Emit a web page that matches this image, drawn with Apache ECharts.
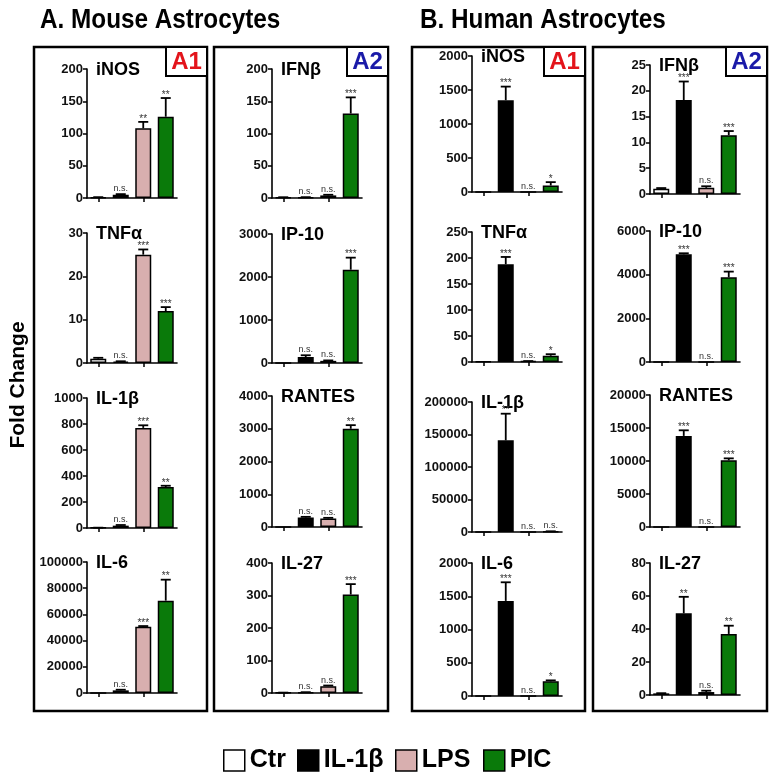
<!DOCTYPE html>
<html><head><meta charset="utf-8">
<script src="https://cdn.jsdelivr.net/npm/echarts@6/dist/echarts.min.js"></script>
<style>html,body{margin:0;padding:0;background:#fff;}#c{width:777px;height:777px;}</style>
</head><body><div id="c"></div>
<script>
const groups = ['Ctr','IL-1β','LPS','PIC'];
const groupColors = ['#ffffff','#000000','#d8afaf','#0a7a0a'];

// A. Mouse astrocytes, panel A1
const mouseA1_names = ['iNOS','TNFα','IL-1β','IL-6'];
const mouseA1_max = [200,30,1000,100000];
const mouseA1_step = [50,10,200,20000];
const mouseA1_values = [[1,5,108,126],[1,0.3,25,12],[2,18,770,315],[1,2000,50500,70500]];
const mouseA1_errors = [[0.3,1,10,29],[0.2,0.1,1.2,0.9],[0.5,5,20,10],[0,500,600,16000]];
const mouseA1_sig = [['','n.s.','**','**'],['','n.s.','***','***'],['','n.s.','***','**'],['','n.s.','***','**']];

// A. Mouse astrocytes, panel A2
const mouseA2_names = ['IFNβ','IP-10','RANTES','IL-27'];
const mouseA2_max = [200,3000,4000,400];
const mouseA2_step = [50,1000,1000,100];
const mouseA2_values = [[1,1,4,131],[1,140,50,2170],[1,290,260,3000],[1,2,21,303]];
const mouseA2_errors = [[0.2,0.3,1,25],[0,40,10,280],[0,20,20,110],[0.2,0.5,2,32]];
const mouseA2_sig = [['','n.s.','n.s.','***'],['','n.s.','n.s.','***'],['','n.s.','n.s.','**'],['','n.s.','n.s.','***']];

// B. Human astrocytes, panel A1
const humanA1_names = ['iNOS','TNFα','IL-1β','IL-6'];
const humanA1_max = [2000,250,200000,2000];
const humanA1_step = [500,50,50000,500];
const humanA1_values = [[1,1350,1,95],[1,188,1.5,12],[1,141000,300,800],[1,1430,1,220]];
const humanA1_errors = [[0,200,0,50],[0,14,0.3,3],[0,41000,0,300],[0,280,0,15]];
const humanA1_sig = [['','***','n.s.','*'],['','***','n.s.','*'],['','**','n.s.','n.s.'],['','***','n.s.','*']];

// B. Human astrocytes, panel A2
const humanA2_names = ['IFNβ','IP-10','RANTES','IL-27'];
const humanA2_max = [25,6000,20000,80];
const humanA2_step = [5,2000,5000,20];
const humanA2_values = [[1,18.2,1.2,11.4],[1,4930,10,3880],[1,13800,10,10100],[1,49.5,1.8,37]];
const humanA2_errors = [[0.15,3.6,0.3,0.8],[0,50,0,260],[0,850,0,300],[0.1,10,0.8,5]];
const humanA2_sig = [['','***','n.s.','***'],['','***','n.s.','***'],['','***','n.s.','***'],['','**','n.s.','**']];

const FF = "'Liberation Sans', Arial, sans-serif";

const cols = [
  {names:mouseA1_names,max:mouseA1_max,step:mouseA1_step,vals:mouseA1_values,errs:mouseA1_errors,sig:mouseA1_sig},
  {names:mouseA2_names,max:mouseA2_max,step:mouseA2_step,vals:mouseA2_values,errs:mouseA2_errors,sig:mouseA2_sig},
  {names:humanA1_names,max:humanA1_max,step:humanA1_step,vals:humanA1_values,errs:humanA1_errors,sig:humanA1_sig},
  {names:humanA2_names,max:humanA2_max,step:humanA2_step,vals:humanA2_values,errs:humanA2_errors,sig:humanA2_sig}
];

// layout
const colLeft = [87,272,472,650];
const plotW = 90;
const rowTB = [
  [[69,198],[233,363],[398,528],[562,693]],
  [[69,198],[234,363],[396,527],[563,693]],
  [[56,192],[232,362],[402,532],[563,696]],
  [[65,194],[231,362],[395,527],[563,695]]
];
const boxX = [[34,207],[214,388],[412,585],[593,767]];
const boxTop = 47, boxBottom = 711;
const tagText = ['A1','A2','A1','A2'];
const tagColor = ['#e3141b','#1a1aa8','#e3141b','#1a1aa8'];
const legendLeft = [223,297,395,483];

function makeRender(sigs){
  return function(params, api){
    const idx = api.value(0), v = api.value(1), e = api.value(2);
    const base = api.coord([idx, v]);
    const top = api.coord([idx, v + e]);
    const children = [];
    if (e > 0) {
      children.push({type:'line', shape:{x1:base[0],y1:base[1],x2:top[0],y2:top[1]}, style:{stroke:'#000',lineWidth:1.8}});
      children.push({type:'line', shape:{x1:top[0]-5,y1:top[1],x2:top[0]+5,y2:top[1]}, style:{stroke:'#000',lineWidth:1.8}});
    }
    const s = sigs[params.dataIndex];
    if (s) {
      const isNs = s === 'n.s.';
      children.push({type:'text', x:top[0], y:top[1] - (isNs ? 1 : -2),
        style:{text:s, align:'center', verticalAlign:'bottom', textAlign:'center', textVerticalAlign:'bottom',
          fontSize: isNs ? 9 : 10, fontFamily:FF, fill:'#333'}});
    }
    return {type:'group', children};
  };
}

const grid=[], xAxis=[], yAxis=[], series=[], graphic=[];
let g = 0;
cols.forEach((c,ci)=>{
  c.names.forEach((nm,ri)=>{
    const t = rowTB[ci][ri][0], b = rowTB[ci][ri][1];
    grid.push({left:colLeft[ci], top:t, width:plotW, height:b-t, containLabel:false});
    xAxis.push({type:'category', gridIndex:g, data:groups, boundaryGap:true,
      axisLine:{show:true,lineStyle:{color:'#000',width:1.6}},
      axisTick:{show:true,alignWithLabel:true,length:4,lineStyle:{color:'#000',width:1.5}},
      axisLabel:{show:false}, splitLine:{show:false}});
    yAxis.push({type:'value', gridIndex:g, min:0, max:c.max[ri], interval:c.step[ri],
      axisLine:{show:true,lineStyle:{color:'#000',width:1.6}},
      axisTick:{show:true,length:4,lineStyle:{color:'#000',width:1.5}},
      splitLine:{show:false},
      axisLabel:{formatter:v=>String(v), fontSize:13, fontWeight:'bold', color:'#111', fontFamily:FF, margin:4}});
    groups.forEach((gn,k)=>{
      series.push({type:'bar', name:gn, xAxisIndex:g, yAxisIndex:g, barWidth:16, barGap:'-100%',
        data: groups.map((_,j)=> j===k ? c.vals[ri][j] : '-'),
        itemStyle:{color:groupColors[k], borderColor:'#000', borderWidth:1.5}, silent:true});
    });
    series.push({type:'custom', xAxisIndex:g, yAxisIndex:g, z:10, silent:true,
      data: groups.map((_,j)=>[j, c.vals[ri][j], c.errs[ri][j]]),
      encode:{x:0,y:1}, renderItem: makeRender(c.sig[ri])});
    graphic.push({type:'text', x:colLeft[ci]+9, y:t+1,
      style:{text:nm, font:'bold 18px '+FF, fill:'#000', verticalAlign:'middle', textVerticalAlign:'middle'}});
    g++;
  });
});

boxX.forEach((bx,i)=>{
  graphic.push({type:'rect', shape:{x:bx[0],y:boxTop,width:bx[1]-bx[0],height:boxBottom-boxTop},
    style:{fill:'none',stroke:'#000',lineWidth:2.5}, z:1});
  graphic.push({type:'rect', shape:{x:bx[1]-41,y:boxTop,width:41,height:29},
    style:{fill:'#fff',stroke:'#000',lineWidth:2}, z:2});
  graphic.push({type:'text', x:bx[1]-20.5, y:boxTop+15, z:3,
    style:{text:tagText[i], font:'bold 24px '+FF, fill:tagColor[i], align:'center', verticalAlign:'middle', textAlign:'center', textVerticalAlign:'middle'}});
});
graphic.push({type:'text', x:40, y:21, scaleX:0.9, style:{text:'A. Mouse Astrocytes', font:'bold 27px '+FF, fill:'#000', verticalAlign:'middle', textVerticalAlign:'middle'}});
graphic.push({type:'text', x:420, y:21, scaleX:0.9, style:{text:'B. Human Astrocytes', font:'bold 27px '+FF, fill:'#000', verticalAlign:'middle', textVerticalAlign:'middle'}});
graphic.push({type:'text', x:18, y:385, rotation:Math.PI/2,
  style:{text:'Fold Change', font:'bold 21px '+FF, fill:'#000', align:'center', verticalAlign:'middle', textAlign:'center', textVerticalAlign:'middle'}});

const legend = groups.map((gn,k)=>({data:[gn], top:748, left:legendLeft[k], icon:'rect', itemWidth:21, itemHeight:21,
  itemStyle:{borderColor:'#000', borderWidth:1.5}, selectedMode:false, padding:0,
  textStyle:{fontSize:25, fontWeight:'bold', color:'#000', fontFamily:FF}}));

const chart = echarts.init(document.getElementById('c'), null, {renderer:'canvas'});
chart.setOption({
  animation:false,
  backgroundColor:'#fff',
  grid, xAxis, yAxis, series, graphic, legend
});
</script></body></html>
